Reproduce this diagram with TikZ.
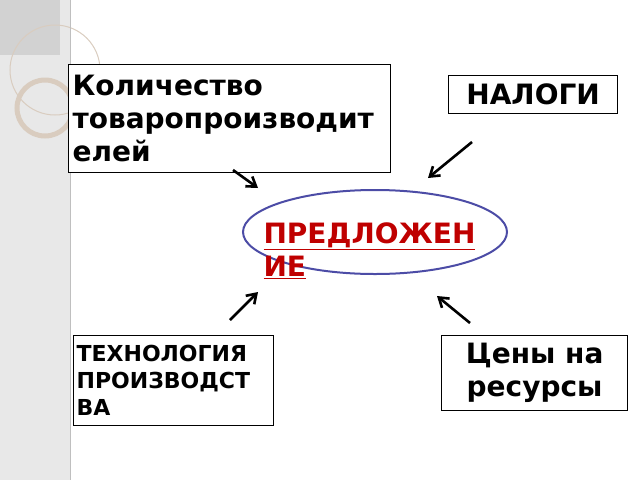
\documentclass[tikz,border=0pt]{standalone}
\usepackage{fontspec}
\setmainfont{DejaVu Sans}
\usetikzlibrary{arrows.meta,shapes.geometric}
\begin{document}
\begin{tikzpicture}[x=1pt,y=-1pt,
 box/.style={draw,line width=1.2pt,fill=white,inner sep=3pt},
 arr/.style={line width=2.6pt,-{Straight Barb[open,length=9pt,width=12pt]}},
 font=\bfseries]
\useasboundingbox (0,0) rectangle (640,480);
\fill[gray!18] (0,0) rectangle (70,480);
\fill[gray!35] (0,0) rectangle (60,55);
\draw[orange!25!gray!40,line width=5pt] (45,108) circle (28);
\draw[orange!25!gray!40,line width=1pt] (55,70) circle (45);
\draw[gray!50] (70,0) -- (70,480);
\node[box,minimum width=322pt,minimum height=108pt,anchor=north west,align=left,text width=314pt,font=\bfseries\fontsize{28}{33}\selectfont] (k) at (68,64) {Количество\\товаропроизводит\\елей};
\node[box,minimum width=169pt,minimum height=38pt,anchor=north west,font=\bfseries\fontsize{28}{30}\selectfont] (n) at (448,75) {НАЛОГИ};
\node[box,minimum width=200pt,minimum height=90pt,anchor=north west,align=left,text width=194pt,font=\bfseries\fontsize{22}{27}\selectfont] (t) at (73,335) {ТЕХНОЛОГИЯ\\ПРОИЗВОДСТ\\ВА};
\node[box,minimum width=186pt,minimum height=75pt,anchor=north west,align=center,font=\bfseries\fontsize{28}{33}\selectfont] (c) at (441,335) {Цены на\\ресурсы};
\node[draw=blue!50!black!70,line width=2pt,ellipse,minimum width=264pt,minimum height=84pt] (e) at (375,232) {};
\node[anchor=west,align=left,text=red!75!black,font=\bfseries\fontsize{28}{33}\selectfont] (p) at (260,251) {\underline{ПРЕДЛОЖЕН}\\\underline{ИЕ}};
\coordinate (a1) at (233,170); \coordinate (b1) at (258,188);
\coordinate (a2) at (472,142); \coordinate (b2) at (428,178);
\coordinate (a3) at (230,320); \coordinate (b3) at (258,292);
\coordinate (a4) at (470,323); \coordinate (b4) at (437,296);
\draw[arr] (a1) -- (b1);
\draw[arr] (a2) -- (b2);
\draw[arr] (a3) -- (b3);
\draw[arr] (a4) -- (b4);
\end{tikzpicture}
\end{document}
